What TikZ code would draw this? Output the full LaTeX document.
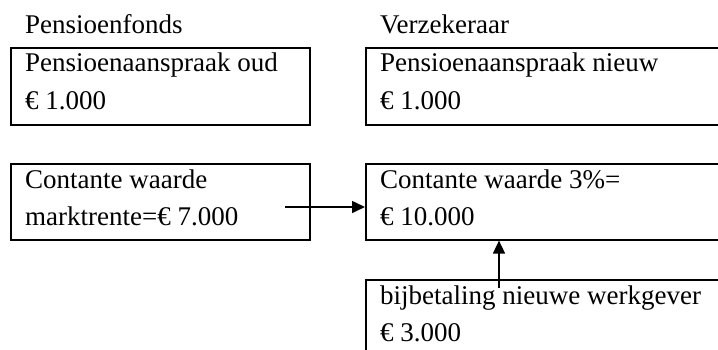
\documentclass[tikz,border=0pt]{standalone}
\usepackage{fontspec}
\setmainfont{Liberation Serif}
\usetikzlibrary{arrows.meta}
\tikzset{
  x=1pt, y=1pt,
  boxframe/.style={draw=black, line width=1.6pt, rectangle, anchor=north west, inner sep=0pt},
  txt/.style={anchor=base west, inner sep=0pt, font=\fontsize{27}{32}\selectfont},
  conn/.style={line width=1.6pt, -{Triangle[length=13pt,width=12pt]}}
}
\begin{document}
\begin{tikzpicture}
\useasboundingbox (0,0) rectangle (718,349);
\clip (0,0) rectangle (718,349);
% headers
\node[txt] (hpf) at (25,316) {Pensioenfonds};
\node[txt] (hvz) at (380,316) {Verzekeraar};
% boxes
\node[boxframe, minimum width=299pt, minimum height=77pt] (b1) at (10,302) {};
\node[boxframe, minimum width=380pt, minimum height=77pt] (b2) at (365,302) {};
\node[boxframe, minimum width=299pt, minimum height=76pt] (b3) at (10,186) {};
\node[boxframe, minimum width=380pt, minimum height=76pt] (b4) at (365,186) {};
\node[boxframe, minimum width=380pt, minimum height=100pt] (b5) at (365,70) {};
% texts
\node[txt] (t1a) at (25,277) {Pensioenaanspraak oud};
\node[txt] (t1b) at (25,240) {€ 1.000};
\node[txt] (t2a) at (380,277) {Pensioenaanspraak nieuw};
\node[txt] (t2b) at (380,240) {€ 1.000};
\node[txt] (t3a) at (25,161) {Contante waarde};
\node[txt] (t3b) at (25,124) {marktrente=€ 7.000};
\node[txt] (t4a) at (380,161) {Contante waarde 3\%=};
\node[txt] (t4b) at (380,124) {€ 10.000};
\node[txt] (t5a) at (380,45) {bijbetaling nieuwe werkgever};
\node[txt] (t5b) at (380,8) {€ 3.000};
% connectors
\coordinate (a1s) at (285,142);
\coordinate (a2s) at (499,61);
\draw[conn] (a1s) -- (a1s -| b4.west);
\draw[conn] (a2s) -- (a2s |- b4.south);
\end{tikzpicture}
\end{document}
